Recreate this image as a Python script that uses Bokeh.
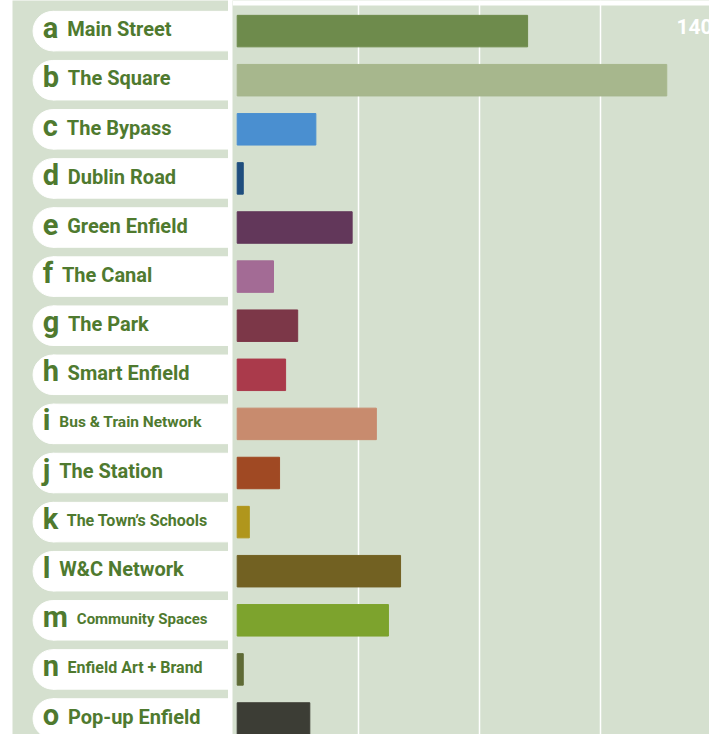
from bokeh.plotting import figure
from bokeh.layouts import row
from bokeh.models import Range1d, Grid, FixedTicker, ColumnDataSource, BoxAnnotation
from bokeh.core.properties import value
from bokeh.embed import file_html
from bokeh.resources import INLINE

# ---- data ----
letters = ["a", "b", "c", "d", "e", "f", "g", "h", "i", "j", "k", "l", "m", "n", "o"]
names = ["Main Street", "The Square", "The Bypass", "Dublin Road", "Green Enfield",
         "The Canal", "The Park", "Smart Enfield", "Bus & Train Network", "The Station",
         "The Town\u2019s Schools", "W&C Network", "Community Spaces",
         "Enfield Art + Brand", "Pop-up Enfield"]
values = [48, 71, 13, 1, 19, 6, 10, 8, 23, 7, 2, 27, 25, 1, 12]
counter = ["140"]
grid_ticks = [20, 40, 60, 80]

# ---- styles ----
bar_colors = ["#6e8b4c", "#a7b78d", "#4a8fd0", "#1f4e7e", "#62375a", "#a36b95",
              "#7c3748", "#aa3a4b", "#c88b6e", "#a04923", "#b0961c", "#726122",
              "#7da32d", "#5f6b36", "#3c3d35"]
name_sizes = ["20px"] * 15
for i, s in [(8, "15.5px"), (10, "16px"), (12, "15px"), (13, "16px")]:
    name_sizes[i] = s
BG = "#d5e0cf"
TXT = "#4f7a2f"
FONT = "Roboto"
LETTER_PX = 29
# approximate Roboto Bold advance widths (em)
adv = {"a": .533, "b": .552, "c": .518, "d": .553, "e": .529, "f": .350, "g": .555,
       "h": .545, "i": .259, "j": .253, "k": .515, "l": .259, "m": .863, "n": .545,
       "o": .558}

n = len(letters)
rows = list(range(n))
W, H = 709, 734
ROW_PX = 49.1
ROW0_PX = 30.6
LEFT_W = 228
TOP_R = 5

top_val = (0 - ROW0_PX) / ROW_PX
yr = Range1d(start=(H - ROW0_PX) / ROW_PX, end=top_val)

# ---- left label panel ----
L = figure(width=LEFT_W, height=H, x_range=Range1d(0, LEFT_W - 12), y_range=yr,
           x_axis_location=None, y_axis_location=None, toolbar_location=None,
           output_backend="svg", min_border_left=12, min_border_right=0,
           min_border_top=0, min_border_bottom=0)
L.background_fill_color = BG
L.border_fill_color = "white"
L.outline_line_color = None
L.grid.visible = False

pill_h = 39.5 / ROW_PX
circ_x = 40.3
L.hbar(y=rows, left=circ_x, right=LEFT_W, height=pill_h, color="white")
L.scatter(x=[circ_x] * n, y=rows, size=39.5, marker="circle", color="white")

letter_y = [r - 3.5 / ROW_PX for r in rows]
name_y = [r - 1.8 / ROW_PX for r in rows]
letter_x = 30.3
L.text(x=[letter_x] * n, y=letter_y, text=letters, text_font=value(FONT),
       text_font_style="bold", text_font_size=f"{LETTER_PX}px", text_color=TXT,
       text_baseline="alphabetic", text_align="left")
name_x = [letter_x + adv[c] * LETTER_PX + 9 for c in letters]
src = ColumnDataSource(dict(x=name_x, y=name_y, t=names, s=name_sizes))
L.text(x="x", y="y", text="t", text_font_size="s", source=src, text_font=value(FONT),
       text_font_style="bold", text_color=TXT, text_baseline="alphabetic",
       text_align="left")

# ---- bar panel ----
PX_PER_UNIT = 6.05
FRAME_R = W - LEFT_W - 4
x0 = -4.7 / PX_PER_UNIT
x1 = x0 + FRAME_R / PX_PER_UNIT
R = figure(width=W - LEFT_W, height=H, x_range=Range1d(x0, x1),
           y_range=yr, x_axis_location=None, y_axis_location=None, toolbar_location=None,
           output_backend="svg", min_border_left=4, min_border_right=0,
           min_border_top=0, min_border_bottom=0)
R.background_fill_color = BG
R.border_fill_color = "white"
R.outline_line_color = None
R.grid.visible = False
R.add_layout(Grid(dimension=0, ticker=FixedTicker(ticks=grid_ticks),
                  grid_line_color="white", grid_line_width=1.5))
# white top strip above the bar area
R.add_layout(BoxAnnotation(top=top_val, bottom=top_val + TOP_R / ROW_PX,
                           fill_color="white", fill_alpha=1, line_color=None))

R.hbar(y=rows, left=0, right=values, height=31.5 / ROW_PX, color=bar_colors)
R.text(x=[(676 - 236.7) / PX_PER_UNIT], y=[(26 - ROW0_PX) / ROW_PX], text=counter,
       text_font=value(FONT), text_font_style="bold", text_font_size="21px",
       text_color="white", text_baseline="middle", text_align="left")

layout = row(L, R)
open("out.html", "w").write(file_html(layout, INLINE))
